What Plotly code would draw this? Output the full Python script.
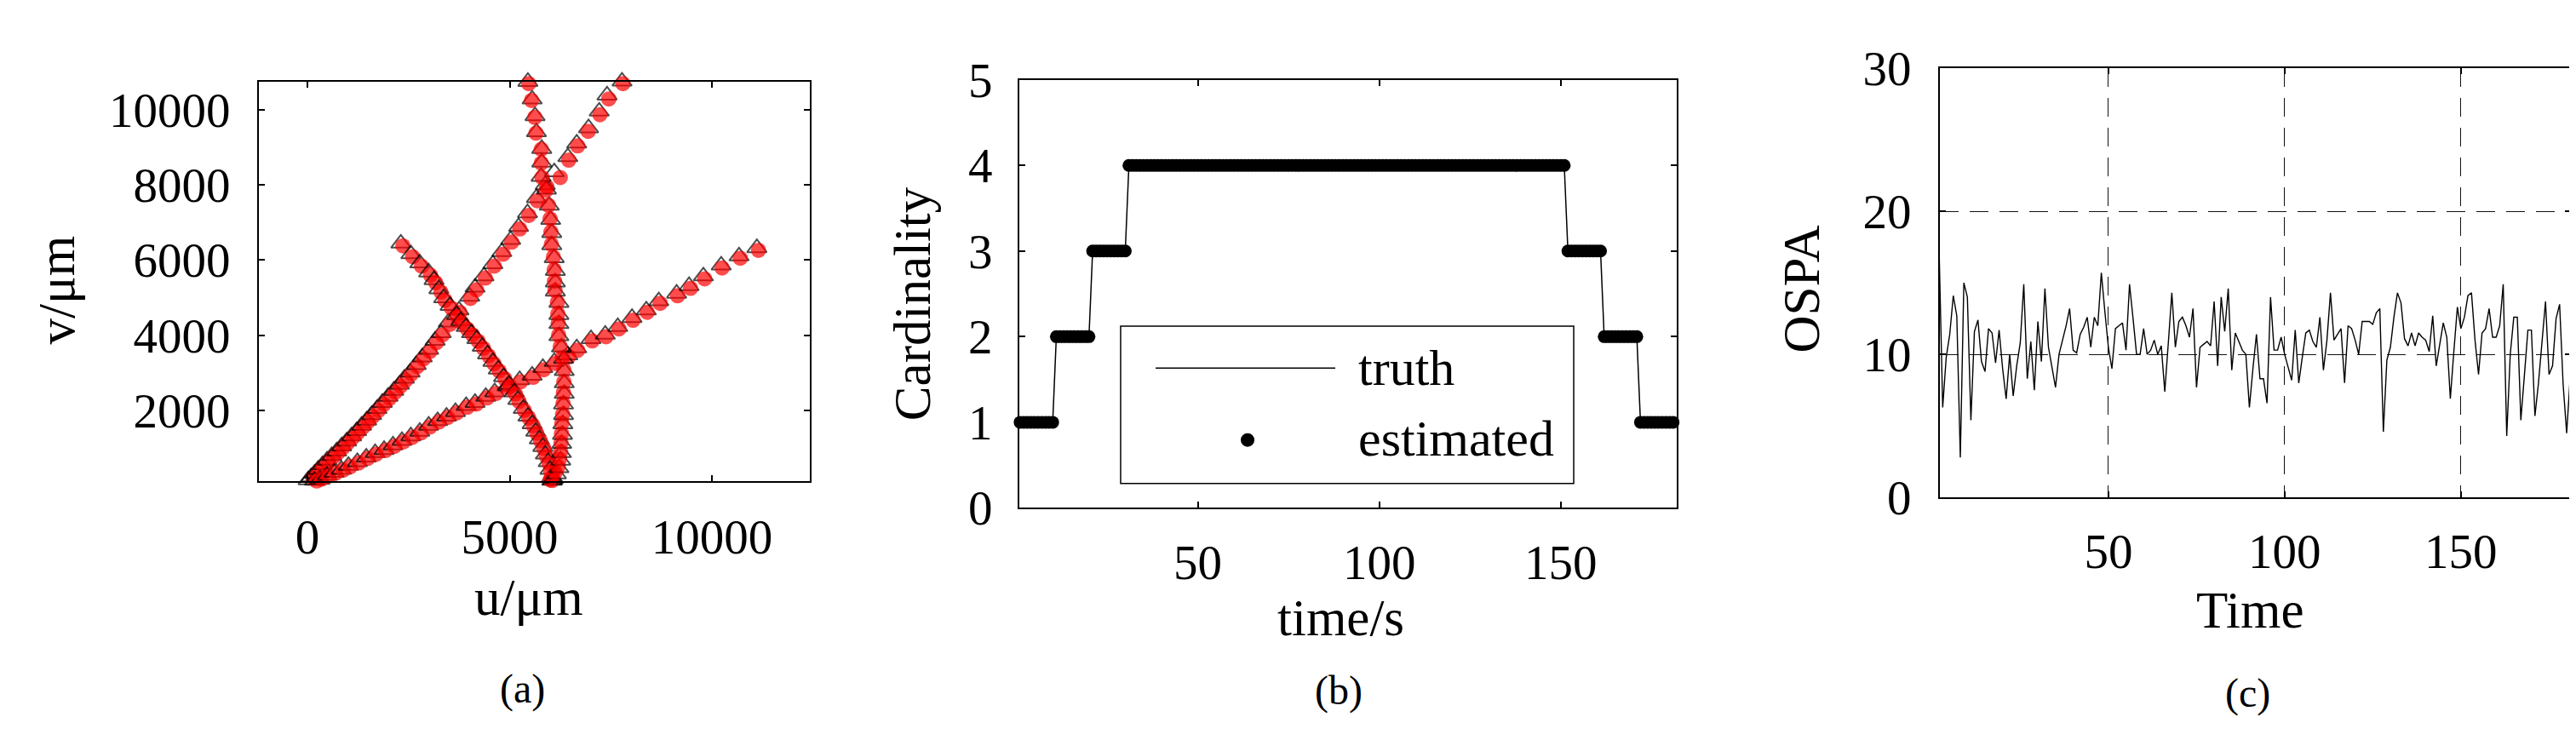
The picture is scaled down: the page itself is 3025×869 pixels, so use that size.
import plotly.graph_objects as go

# ---------------- data ----------------
# (a) trajectories: truth (triangles) and estimates (red dots), u/um, v/um
trackA_true_u = [18, 88, 176, 265, 370, 485, 600, 723, 847, 970, 1093, 1217, 1340, 1464, 1587, 1720, 1852, 1993, 2134, 2275, 2398, 2540, 2689, 2839, 2998, 3157, 3307, 3483, 3748, 4012, 4144, 4365, 4585, 4806, 5026, 5220, 5441, 5661, 5880, 6102, 6437, 6658, 6949, 7213, 7407, 7777]
trackA_true_v = [142, 222, 319, 424, 546, 667, 788, 909, 1047, 1176, 1313, 1451, 1596, 1733, 1879, 2040, 2202, 2364, 2525, 2687, 2848, 3010, 3212, 3414, 3616, 3858, 4060, 4343, 4666, 5030, 5272, 5571, 5895, 6218, 6541, 6888, 7252, 7656, 8000, 8343, 8747, 9110, 9514, 9959, 10387, 10758]
trackA_est_u = [60, 130, 210, 300, 400, 520, 640, 760, 880, 1000, 1130, 1250, 1380, 1500, 1620, 1760, 1890, 2030, 2170, 2300, 2430, 2570, 2720, 2870, 3030, 3190, 3340, 3520, 3770, 4030, 4180, 4400, 4620, 4840, 5050, 5250, 5470, 5680, 5920, 6250, 6460, 6680, 6940, 7230, 7450, 7800]
trackA_est_v = [110, 190, 280, 390, 500, 640, 760, 880, 1010, 1140, 1280, 1410, 1560, 1700, 1840, 2000, 2160, 2320, 2480, 2640, 2800, 2970, 3170, 3370, 3570, 3800, 4010, 4290, 4610, 4980, 5210, 5520, 5840, 6160, 6480, 6830, 7190, 7580, 7950, 8200, 8660, 9040, 9430, 9870, 10290, 10700]

trackB_true_u = [6040, 6084, 6155, 6217, 6261, 6278, 6287, 6305, 6314, 6331, 6331, 6349, 6349, 6349, 6331, 6280, 6217, 6217, 6217, 6217, 6129, 6129, 6129, 6102, 6040, 6040, 6014, 5979, 5908, 5776, 5793, 5793, 5661, 5626, 5555, 5450]
trackB_true_v = [130, 182, 303, 465, 667, 869, 1111, 1354, 1636, 1879, 2162, 2444, 2727, 3050, 3374, 3680, 3980, 4303, 4545, 4868, 5167, 5410, 5717, 6056, 6404, 6727, 7074, 7454, 7882, 8222, 8601, 8965, 9409, 9838, 10282, 10750]
trackB_est_u = [6000, 6060, 6130, 6200, 6230, 6260, 6270, 6280, 6290, 6310, 6320, 6330, 6340, 6340, 6300, 6250, 6210, 6200, 6190, 6180, 6120, 6110, 6100, 6080, 6030, 6020, 6000, 5960, 5900, 5800, 5780, 5780, 5650, 5620, 5540, 5470]
trackB_est_v = [150, 230, 350, 500, 700, 900, 1140, 1380, 1660, 1900, 2190, 2470, 2760, 3080, 3400, 3700, 4000, 4320, 4570, 4880, 5190, 5440, 5740, 6080, 6420, 6750, 7100, 7460, 7860, 8200, 8580, 8950, 9380, 9800, 10250, 10700]

trackC_true_u = [176, 309, 485, 661, 838, 1014, 1235, 1455, 1675, 1896, 2116, 2337, 2557, 2778, 2998, 3219, 3439, 3660, 3924, 4144, 4409, 4629, 4938, 5247, 5555, 5820, 6102, 6437, 6658, 7010, 7363, 7672, 8024, 8377, 8686, 9127, 9435, 9788, 10229, 10670, 11111]
trackC_true_v = [130, 158, 263, 344, 424, 529, 626, 748, 869, 950, 1071, 1192, 1313, 1434, 1596, 1717, 1838, 1960, 2121, 2202, 2364, 2485, 2646, 2808, 2929, 3131, 3293, 3471, 3656, 3899, 4020, 4222, 4464, 4666, 4909, 5111, 5313, 5571, 5862, 6105, 6323]
trackC_est_u = [230, 350, 520, 700, 880, 1060, 1270, 1490, 1700, 1930, 2150, 2370, 2590, 2810, 3030, 3250, 3470, 3690, 3950, 4180, 4440, 4660, 4960, 5270, 5580, 5840, 6130, 6460, 6680, 7040, 7380, 7700, 8050, 8400, 8720, 9150, 9470, 9820, 10250, 10700, 11150]
trackC_est_v = [120, 170, 250, 330, 410, 500, 600, 720, 830, 930, 1040, 1160, 1280, 1400, 1560, 1690, 1810, 1930, 2080, 2170, 2330, 2450, 2600, 2760, 2880, 3080, 3250, 3430, 3600, 3850, 3960, 4170, 4400, 4610, 4850, 5050, 5250, 5500, 5790, 6050, 6260]

trackD_true_u = [2310, 2557, 2778, 2998, 3131, 3250, 3368, 3527, 3686, 3792, 3924, 4056, 4189, 4321, 4453, 4585, 4718, 4850, 4982, 5114, 5203, 5335, 5450, 5555, 5644, 5732, 5820, 5882, 5952, 5996, 6040, 6060]
trackD_true_v = [6444, 6161, 5919, 5676, 5474, 5230, 4990, 4788, 4545, 4384, 4222, 4060, 3899, 3697, 3495, 3293, 3091, 2889, 2687, 2485, 2283, 2040, 1838, 1636, 1434, 1232, 1030, 828, 626, 424, 222, 140]
trackD_est_u = [2360, 2600, 2820, 3040, 3170, 3300, 3400, 3560, 3710, 3820, 3950, 4080, 4220, 4350, 4480, 4610, 4740, 4880, 5010, 5140, 5230, 5360, 5470, 5580, 5670, 5760, 5840, 5900, 5970, 6010, 6040, 6050]
trackD_est_v = [6380, 6090, 5840, 5600, 5400, 5150, 4930, 4720, 4490, 4330, 4170, 4010, 3840, 3650, 3450, 3240, 3050, 2840, 2640, 2440, 2240, 2000, 1800, 1590, 1390, 1190, 990, 790, 590, 390, 200, 130]

# (b) cardinality: run lengths of the true / estimated target count
card_levels = [1, 2, 3, 4, 3, 2, 1]
card_runs = [10, 10, 10, 121, 10, 10, 10]
card_time_start = 1

# (c) OSPA distance, t = 2..181
ospa_time_start = 2
ospa_values = [
    17.1, 6.3, 9.8, 11.4, 14.1, 12.7, 2.8, 15.0, 14.0, 5.4,
    11.6, 12.4, 9.5, 8.8, 11.8, 11.5, 9.4, 11.7, 9.0, 6.9,
    10.0, 7.1, 9.2, 10.8, 14.9, 8.3, 10.9, 7.5, 12.3, 9.5,
    14.6, 10.5, 9.1, 7.7, 10.0, 11.0, 12.0, 13.2, 10.3, 10.1,
    11.4, 11.9, 12.6, 10.5, 12.6, 12.0, 15.7, 13.0, 10.5, 9.0,
    11.8, 12.0, 12.2, 10.3, 14.9, 12.5, 10.0, 10.0, 11.8, 10.0,
    10.3, 11.0, 10.0, 10.6, 7.4, 10.8, 14.3, 10.5, 12.3, 12.6,
    12.0, 11.2, 13.2, 7.7, 10.5, 10.7, 10.9, 10.6, 13.7, 9.2,
    14.0, 11.6, 14.6, 8.9, 11.5, 10.9, 10.3, 10.0, 6.3, 9.0,
    11.4, 8.3, 8.3, 6.6, 14.0, 10.3, 10.3, 11.2, 10.0, 9.1,
    8.2, 11.7, 8.0, 9.8, 11.5, 11.7, 10.9, 10.5, 12.6, 8.9,
    11.0, 14.3, 11.0, 11.4, 11.8, 8.0, 12.0, 11.8, 11.0, 10.0,
    12.3, 12.3, 12.3, 12.1, 12.9, 13.2, 4.6, 9.6, 10.5, 12.6,
    14.3, 13.6, 11.1, 10.6, 11.5, 10.6, 11.5, 11.2, 11.0, 10.2,
    12.7, 9.2, 10.8, 12.2, 11.2, 6.9, 10.2, 13.3, 11.8, 12.6,
    14.1, 14.3, 11.0, 8.6, 11.5, 11.8, 13.2, 11.2, 11.2, 12.0,
    14.9, 4.3, 10.0, 12.6, 12.6, 5.4, 8.5, 11.7, 11.7, 5.7,
    8.0, 10.9, 13.7, 8.6, 9.2, 12.5, 13.5, 7.9, 4.5, 8.4,
]

# axis ticks / labels
a_xticks = [0, 5000, 10000]
a_yticks = [2000, 4000, 6000, 8000, 10000]
b_xticks = [50, 100, 150]
b_yticks = [0, 1, 2, 3, 4, 5]
c_xticks = [50, 100, 150]
c_yticks = [0, 10, 20, 30]

# ---------------- figure ----------------
W, H = 3025, 869
FONT = "Liberation Serif"


def px_x(p):
    return p / W


def px_y(p):
    return 1 - p / H


fig = go.Figure()

# (a) interleave truth/estimate per time step so later triangles overlay earlier dots
tracks = [
    (trackA_true_u, trackA_true_v, trackA_est_u, trackA_est_v),
    (trackC_true_u, trackC_true_v, trackC_est_u, trackC_est_v),
    (trackD_true_u, trackD_true_v, trackD_est_u, trackD_est_v),
    (trackB_true_u, trackB_true_v, trackB_est_u, trackB_est_v),
]
for tu, tv, eu, ev in tracks:
    xs, ys, sym, col, sz, lw = [], [], [], [], [], []
    for i in range(len(tu)):
        xs += [tu[i], eu[i]]
        ys += [tv[i], ev[i]]
        sym += ["triangle-up-open", "circle"]
        col += ["black", "#ff0000"]
        sz += [20, 18]
        lw += [2, 0]
    fig.add_trace(go.Scatter(
        x=xs, y=ys, mode="markers", xaxis="x", yaxis="y",
        marker=dict(symbol=sym, color=col, size=sz, line=dict(width=lw, color="black")),
        cliponaxis=False, showlegend=False, hoverinfo="skip"))

# (b) cardinality
card_t, card_truth = [], []
t = card_time_start
for lvl, n in zip(card_levels, card_runs):
    for _ in range(n):
        card_t.append(t)
        card_truth.append(lvl)
        t += 1
card_est = list(card_truth)
fig.add_trace(go.Scatter(x=card_t, y=card_truth, mode="lines", xaxis="x2", yaxis="y2",
                         line=dict(color="black", width=1.5), showlegend=False, cliponaxis=False))
fig.add_trace(go.Scatter(x=card_t, y=card_est, mode="markers", xaxis="x2", yaxis="y2",
                         marker=dict(color="black", size=15, line=dict(width=0)),
                         showlegend=False, cliponaxis=False))

# (c) OSPA
ospa_t = list(range(ospa_time_start, ospa_time_start + len(ospa_values)))
fig.add_trace(go.Scatter(x=ospa_t, y=ospa_values, mode="lines", xaxis="x3", yaxis="y3",
                         line=dict(color="black", width=1.4), showlegend=False))

axis_common = dict(
    showline=True, linecolor="black", linewidth=2, mirror="ticks",
    ticks="inside", ticklen=7, tickwidth=1.5, tickcolor="black",
    zeroline=False, showgrid=False,
    tickfont=dict(family=FONT, size=57, color="black"),
)
grid_c = dict(showgrid=True, gridcolor="#111111", gridwidth=1.2, griddash="22px,13px")

fig.update_layout(
    width=W, height=H, autosize=False,
    margin=dict(l=0, r=0, t=0, b=0),
    paper_bgcolor="white", plot_bgcolor="white",
    showlegend=False,
    xaxis=dict(axis_common, domain=[px_x(296), px_x(943)], range=[-1200, 12420],
               tickvals=a_xticks, ticktext=[str(v) for v in a_xticks],
               ticklabelstandoff=15, anchor="y"),
    yaxis=dict(axis_common, domain=[px_y(567), px_y(61)], range=[118, 10758],
               tickvals=a_yticks, ticktext=[str(v) for v in a_yticks],
               ticklabelstandoff=20, anchor="x"),
    xaxis2=dict(axis_common, domain=[px_x(1189), px_x(1961)], range=[0.8, 182],
                tickvals=b_xticks, ticktext=[str(v) for v in b_xticks],
                ticklabelstandoff=13, anchor="y2"),
    yaxis2=dict(axis_common, domain=[px_y(601), px_y(59)], range=[0, 5],
                tickvals=b_yticks, ticktext=[str(v) for v in b_yticks],
                ticklabelstandoff=18, anchor="x2"),
    xaxis3=dict(axis_common, domain=[px_x(2270), px_x(3011)], range=[2.2, 181.2],
                tickvals=c_xticks, ticktext=[str(v) for v in c_xticks],
                ticklabelstandoff=12, anchor="y3", **grid_c),
    yaxis3=dict(axis_common, domain=[px_y(588), px_y(44)], range=[0, 30],
                tickvals=c_yticks, ticktext=[str(v) for v in c_yticks],
                ticklabelstandoff=20, anchor="x3", **grid_c),
)

# legend of (b), drawn inside the axes
fig.add_shape(type="rect", xref="x2 domain", yref="y2 domain",
              x0=0.1541, x1=0.8433, y0=0.0572, y1=0.4244,
              line=dict(color="black", width=1.5), fillcolor="white", layer="above")
fig.add_shape(type="line", xref="x2 domain", yref="y2 domain",
              x0=0.2073, x1=0.4806, y0=0.3266, y1=0.3266,
              line=dict(color="black", width=1.5), layer="above")
fig.add_shape(type="circle", xref="x2 domain", yref="y2 domain",
              xsizemode="pixel", ysizemode="pixel", xanchor=0.3472, yanchor=0.1587,
              x0=-8, x1=8, y0=-8, y1=8, fillcolor="black", line=dict(width=0), layer="above")
for txt, yy in [("truth", 0.3266), ("estimated", 0.1624)]:
    fig.add_annotation(text=txt, xref="x2 domain", yref="y2 domain", x=0.5130, y=yy,
                       xanchor="left", yanchor="middle", showarrow=False,
                       font=dict(family=FONT, size=60, color="black"))

# axis titles and panel labels
titles = [
    ("u/\u03bcm", 613, 714, 0),
    ("v/\u03bcm", 58, 325, -90),
    ("time/s", 1566, 740, 0),
    ("Cardinality", 1063, 343, -90),
    ("Time", 2634, 730, 0),
    ("OSPA", 2108, 324, -90),
]
for txt, x, y, ang in titles:
    fig.add_annotation(text=txt, xref="paper", yref="paper", x=px_x(x), y=px_y(y),
                       xanchor="center", yanchor="middle", showarrow=False, textangle=ang,
                       font=dict(family=FONT, size=61, color="black"))
for txt, x, y in [("(a)", 605, 830), ("(b)", 1564, 832), ("(c)", 2631, 836)]:
    fig.add_annotation(text=txt, xref="paper", yref="paper", x=px_x(x), y=px_y(y),
                       xanchor="center", yanchor="middle", showarrow=False,
                       font=dict(family=FONT, size=48, color="black"))

fig.write_html("out.html")
